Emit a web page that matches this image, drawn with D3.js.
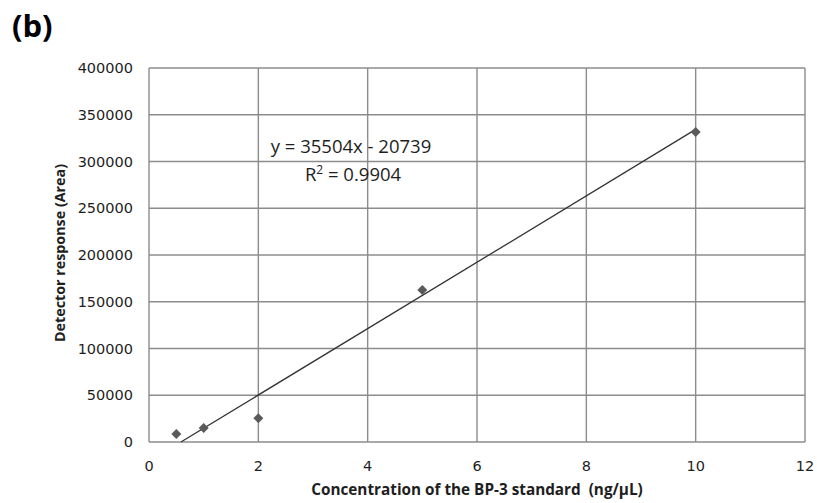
<!DOCTYPE html>
<html>
<head>
<meta charset="utf-8">
<script src="https://cdn.jsdelivr.net/npm/d3@7"></script>
<style>
  body { margin: 0; background: #fff; }
  svg text { font-family: "Open Sans", "Liberation Sans", sans-serif; white-space: pre; }
  svg text.num { font-family: "DejaVu Sans", sans-serif; }
</style>
</head>
<body>
<div id="chart"></div>
<script>
// Calibration data
var conc = [0.5, 1, 2, 5, 10];
var response = [8500, 15000, 25500, 162500, 331500];
var xTicks = [0, 2, 4, 6, 8, 10, 12];
var yTicks = [0, 50000, 100000, 150000, 200000, 250000, 300000, 350000, 400000];
var slope = 35504;
var intercept = -20739;

var width = 817, height = 503;
var margin = { top: 68, left: 149, right: 12, bottom: 61 };

var svg = d3.select("#chart").append("svg")
  .attr("width", width)
  .attr("height", height);

var x = d3.scaleLinear().domain([0, 12]).range([margin.left, width - margin.right]);
var y = d3.scaleLinear().domain([0, 400000]).range([height - margin.bottom, margin.top]);

// gridlines
svg.append("g").selectAll("line.h")
  .data(yTicks).enter().append("line")
  .attr("x1", x(0)).attr("x2", x(12))
  .attr("y1", function(d) { return y(d); })
  .attr("y2", function(d) { return y(d); })
  .attr("stroke", "#8c8c8c").attr("stroke-width", 1.4);

svg.append("g").selectAll("line.v")
  .data(xTicks).enter().append("line")
  .attr("y1", y(0)).attr("y2", y(400000))
  .attr("x1", function(d) { return x(d); })
  .attr("x2", function(d) { return x(d); })
  .attr("stroke", "#8c8c8c").attr("stroke-width", 1.4);

// tick labels
svg.append("g").selectAll("text")
  .data(yTicks).enter().append("text")
  .attr("class", "num")
  .attr("x", x(0) - 16)
  .attr("y", function(d) { return y(d) + 5; })
  .attr("text-anchor", "end")
  .attr("font-size", 14.5)
  .attr("fill", "#1e1e1e")
  .text(function(d) { return d; });

svg.append("g").selectAll("text")
  .data(xTicks).enter().append("text")
  .attr("class", "num")
  .attr("x", function(d) { return x(d); })
  .attr("y", y(0) + 29)
  .attr("text-anchor", "middle")
  .attr("font-size", 14.5)
  .attr("fill", "#1e1e1e")
  .text(function(d) { return d; });

// trendline
var x0 = -intercept / slope;
svg.append("line")
  .attr("x1", x(x0)).attr("y1", y(0))
  .attr("x2", x(10)).attr("y2", y(slope * 10 + intercept))
  .attr("stroke", "#333").attr("stroke-width", 1.3);

// markers
svg.append("g").selectAll("path")
  .data(conc).enter().append("path")
  .attr("d", d3.symbol().type(d3.symbolSquare).size(50))
  .attr("transform", function(d, i) {
    return "translate(" + x(d) + "," + y(response[i]) + ") rotate(45)";
  })
  .attr("fill", "#5a5a5a");

// equation
svg.append("text")
  .attr("x", 351).attr("y", 153)
  .attr("text-anchor", "middle")
  .attr("font-size", 18.5)
  .attr("fill", "#1e1e1e")
  .text("y = 35504x - 20739");

var r2 = svg.append("text")
  .attr("x", 353).attr("y", 181)
  .attr("text-anchor", "middle")
  .attr("font-size", 18.5)
  .attr("fill", "#1e1e1e");
r2.append("tspan").text("R");
r2.append("tspan").attr("dy", -7).attr("font-size", 12).text("2");
r2.append("tspan").attr("dy", 7).text(" = 0.9904");

// axis titles
svg.append("text")
  .attr("x", 477).attr("y", 495)
  .attr("text-anchor", "middle")
  .attr("font-size", 15.3)
  .attr("font-weight", "bold")
  .attr("fill", "#1e1e1e")
  .text("Concentration of the BP-3 standard  (ng/\u03bcL)");

svg.append("text")
  .attr("transform", "translate(65,253) rotate(-90)")
  .attr("text-anchor", "middle")
  .attr("font-size", 14.3)
  .attr("font-weight", "bold")
  .attr("fill", "#1e1e1e")
  .text("Detector response (Area)");

// panel label
svg.append("text")
  .attr("x", 12).attr("y", 37)
  .attr("font-size", 31)
  .attr("font-weight", "bold")
  .attr("fill", "#000")
  .text("(b)");
</script>
</body>
</html>
